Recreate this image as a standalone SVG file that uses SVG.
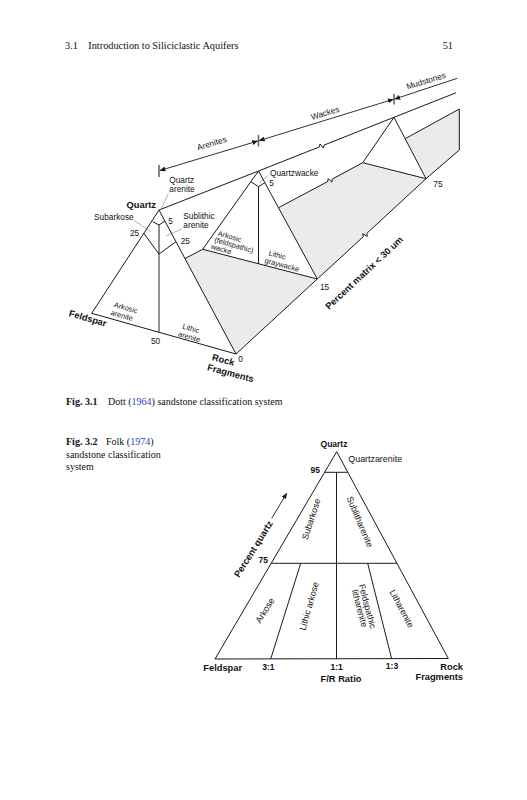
<svg xmlns="http://www.w3.org/2000/svg" width="527" height="800" viewBox="0 0 527 800">
<style>
.ser{font-family:"Liberation Serif","Times New Roman",serif;font-size:10px;fill:#111}
.hdr{font-size:10.3px}
.serb{font-family:"Liberation Serif","Times New Roman",serif;font-weight:bold;fill:#111}
.lnk{fill:#2b3fc8}
.lb{font-family:"Liberation Sans",Arial,sans-serif;font-size:8.3px;fill:#111}
.lb2{font-family:"Liberation Sans",Arial,sans-serif;font-size:8.9px;fill:#111}
.sm{font-family:"Liberation Sans",Arial,sans-serif;font-size:7.4px;fill:#111}
.bd{font-family:"Liberation Sans",Arial,sans-serif;font-size:9.3px;font-weight:bold;fill:#111}
.bs{font-family:"Liberation Sans",Arial,sans-serif;font-size:8.5px;font-weight:bold;fill:#111}
.ln{fill:none;stroke:#1a1a1a;stroke-width:1;stroke-linejoin:miter}
.gy{fill:#ebebeb;stroke:none}
.ld{fill:none;stroke:#777;stroke-width:0.6}
.tk{stroke:#666;stroke-width:1.6}
.dim{fill:none;stroke:#1a1a1a;stroke-width:0.9}
</style>
<defs>
<marker id="ah" markerWidth="6" markerHeight="5" refX="5.5" refY="2.5" orient="auto-start-reverse" markerUnits="userSpaceOnUse">
<path d="M0,0 L6,2.5 L0,5 z" fill="#1a1a1a"/>
</marker>
</defs>

<!-- page header -->
<text class="ser hdr" x="65" y="49">3.1</text>
<text class="ser hdr" x="88.3" y="49">Introduction to Siliciclastic Aquifers</text>
<text class="ser hdr" x="453" y="49" text-anchor="end">51</text>

<!-- ================= Figure 3.1 ================= -->
<g id="fig31-faces">
<polygon class="gy" points="185,258.5 202.7,249.3 317.3,279 236,354"/>
<polygon class="gy" points="278.5,207.7 362.7,162.7 426,178.7 317.3,279"/>
<polygon class="gy" points="405.2,138.7 459.3,109 459.3,150 426,178.7"/>
</g>

<g id="connectors">
<!-- dimension lines -->
<line class="tk" x1="159" y1="165" x2="159" y2="177"/>
<line class="tk" x1="258.5" y1="135" x2="258.5" y2="146.5"/>
<line class="tk" x1="394" y1="94" x2="394" y2="104.5"/>
<line class="dim" x1="160" y1="170.5" x2="257.8" y2="141" marker-start="url(#ah)" marker-end="url(#ah)"/>
<line class="dim" x1="259.2" y1="140.6" x2="393.3" y2="99.3" marker-start="url(#ah)" marker-end="url(#ah)"/>
<line class="dim" x1="394.7" y1="99" x2="457.3" y2="78.3" marker-start="url(#ah)"/>
<!-- top edge line with break -->
<polyline class="ln" points="159,210 258.5,171 319.4,146.9 320,144 323.4,148 324,145.1 394,117.3 456,92.8"/>
<!-- percent matrix axis with break -->
<polyline class="ln" points="236,354 317.3,279 363.2,236.8 362.7,233.8 367.3,236.4 366.8,233.4 426,178.7 459.3,150"/>
<!-- leader lines -->
<line class="ld" x1="168.3" y1="193.5" x2="161.7" y2="208.3"/>
<line class="ld" x1="134" y1="220.5" x2="150.7" y2="231.7"/>
<line class="ld" x1="181.7" y1="229" x2="166" y2="236"/>
<line class="ld" x1="268.3" y1="175.5" x2="259.5" y2="182.5"/>
</g>

<g id="fig31-triangle-arenites">
<polygon class="ln" points="91.7,313.3 159,210 236,354"/>
<polyline class="ln" points="152.7,221.7 159,225 165,221"/>
<line class="ln" x1="159" y1="225" x2="159" y2="254"/>
<polyline class="ln" points="143.8,233.3 159,254 176,241.7"/>
<line x1="159" y1="254" x2="159" y2="332.3" stroke="#666" stroke-width="1.4"/>
<line class="ln" x1="185" y1="258.5" x2="202.7" y2="249.3"/>
</g>

<g id="fig31-triangle-wackes">
<polygon class="ln" points="202.7,249.3 258.5,171 317.3,279"/>
<polyline class="ln" points="250.9,181.7 258.5,186.7 264.9,182.7"/>
<line class="ln" x1="258.5" y1="186.7" x2="258.5" y2="263.8"/>
<polyline class="ln" points="278.5,207.7 327.8,181.5 328.1,178.5 331.9,182.1 332.2,179.1 362.7,162.7"/>
</g>

<g id="fig31-triangle-mudstones">
<polygon class="ln" points="362.7,162.7 394,117.3 426,178.7"/>
<polyline class="ln" points="405.2,138.7 459.3,109 459.3,150"/>
</g>

<g id="fig31-labels">
<text class="lb" transform="translate(198,150.5) rotate(-17)">Arenites</text>
<text class="lb" transform="translate(312,120) rotate(-17)">Wackes</text>
<text class="lb" transform="translate(407.5,89.5) rotate(-17)">Mudstones</text>
<text class="lb" x="169.3" y="183">Quartz</text>
<text class="lb" x="169.3" y="192.3">arenite</text>
<text class="bd" x="156" y="208.3" text-anchor="end">Quartz</text>
<text class="lb" x="94" y="220">Subarkose</text>
<text class="lb" x="168.3" y="223.5">5</text>
<text class="lb" x="183.3" y="218.5">Sublithic</text>
<text class="lb" x="183.3" y="227.8">arenite</text>
<text class="lb" x="130" y="236">25</text>
<text class="lb" x="180.7" y="243.5">25</text>
<text class="sm" transform="translate(113.5,306.8) rotate(16)">Arkosic<tspan x="-1" dy="8.5">arenite</tspan></text>
<text class="sm" transform="translate(182,328.5) rotate(16)">Lithic<tspan x="-2" dy="8.5">arenite</tspan></text>
<text class="lb" x="151" y="343.5">50</text>
<text class="bd" transform="translate(68.3,316) rotate(16)">Feldspar</text>
<text class="bd" transform="translate(211.5,360) rotate(15)">Rock<tspan x="-2" dy="11">Fragments</tspan></text>
<text class="lb" x="238.3" y="362">0</text>
<text class="sm" transform="translate(217.3,235.5) rotate(16)">Arkosic<tspan x="-1.5" dy="7.2">(feldspathic)</tspan><tspan x="-3" dy="7.2">wacke</tspan></text>
<text class="sm" transform="translate(268.3,255.3) rotate(14.5)">Lithic<tspan x="-2" dy="8.3">graywacke</tspan></text>
<text class="lb" x="270" y="175.5">Quartzwacke</text>
<text class="lb" x="269.3" y="185.5">5</text>
<text class="lb" x="320" y="290">15</text>
<text class="lb" x="433.3" y="186.5">75</text>
<text class="bd" transform="translate(329,310) rotate(-43)">Percent matrix &lt; 30 um</text>
</g>

<g id="caption31">
<text class="ser" x="66" y="405"><tspan class="serb">Fig. 3.1</tspan><tspan x="108">Dott (</tspan><tspan class="lnk">1964</tspan>) sandstone classification system</text>
</g>

<!-- ================= Figure 3.2 ================= -->
<g id="caption32">
<text class="ser" x="66" y="445"><tspan class="serb">Fig. 3.2</tspan><tspan x="106">Folk (</tspan><tspan class="lnk">1974</tspan>)</text>
<text class="ser" x="66" y="457.5">sandstone classification</text>
<text class="ser" x="66" y="470">system</text>
</g>

<g id="fig32-triangle">
<polygon class="ln" points="215,659 336.7,451.7 448.3,658.5"/>
<line class="ln" x1="324.6" y1="472.3" x2="347.8" y2="472.3"/>
<line class="ln" x1="336.5" y1="472.3" x2="336.5" y2="659"/>
<line class="ln" x1="271.1" y1="563.3" x2="397" y2="563.3"/>
<line class="ln" x1="300.7" y1="563.3" x2="270.7" y2="659"/>
<line class="ln" x1="367.7" y1="563.3" x2="391.7" y2="659"/>
</g>

<g id="fig32-arrow">
<line class="dim" x1="271.7" y1="518.3" x2="286.7" y2="493.3" marker-end="url(#ah)"/>
</g>

<g id="fig32-labels">
<text class="bs" x="334" y="446.5" text-anchor="middle">Quartz</text>
<text class="lb2" x="348.3" y="462">Quartzarenite</text>
<text class="bs" x="320" y="472.5" text-anchor="end">95</text>
<text class="bs" x="268" y="562.5" text-anchor="end">75</text>
<text class="bd" transform="translate(239,578) rotate(-58)">Percent quartz</text>
<text class="lb2" text-anchor="middle" transform="translate(314,520) rotate(-72)">Subarkose</text>
<text class="lb2" text-anchor="middle" transform="translate(357,523) rotate(67)">Sublitharenite</text>
<text class="lb2" text-anchor="middle" transform="translate(267.5,612) rotate(-58)">Arkose</text>
<text class="lb2" text-anchor="middle" transform="translate(312,607) rotate(-74)">Lithic arkose</text>
<text class="lb2" text-anchor="middle" transform="translate(364.5,607) rotate(75)">Feldspathic<tspan x="0" dy="8">litharenite</tspan></text>
<text class="lb2" text-anchor="middle" transform="translate(399,610) rotate(62)">Litharenite</text>
<text class="bd" x="203.3" y="671">Feldspar</text>
<text class="bs" x="268.3" y="670" text-anchor="middle">3:1</text>
<text class="bs" x="336.7" y="670" text-anchor="middle">1:1</text>
<text class="bs" x="392" y="669" text-anchor="middle">1:3</text>
<text class="bd" x="341" y="681.5" text-anchor="middle">F/R Ratio</text>
<text class="bd" x="463" y="670" text-anchor="end">Rock</text>
<text class="bd" x="463" y="679.5" text-anchor="end">Fragments</text>
</g>
</svg>
